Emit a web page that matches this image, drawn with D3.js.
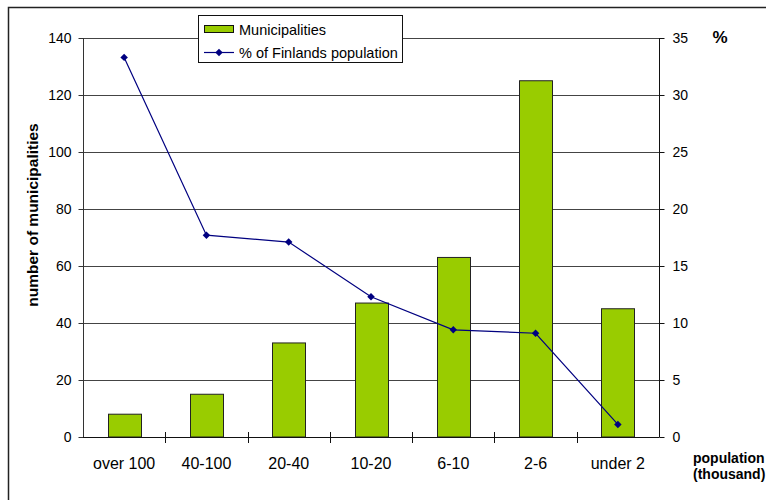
<!DOCTYPE html>
<html>
<head>
<meta charset="utf-8">
<script src="https://cdn.jsdelivr.net/npm/d3@7/dist/d3.min.js"></script>
<style>
  html, body { margin: 0; padding: 0; background: #fff; }
  svg { display: block; font-family: "Liberation Sans", Arial, sans-serif; }
</style>
</head>
<body>
<svg id="chart" width="766" height="500"></svg>
<script>
// Municipalities of Finland grouped by population size
const categories = ["over 100", "40-100", "20-40", "10-20", "6-10", "2-6", "under 2"];
const municipalities = [8, 15, 33, 47, 63, 125, 45];
const populationShare = [33.3, 17.7, 17.1, 12.3, 9.4, 9.1, 1.1];
const leftTicks = [0, 20, 40, 60, 80, 100, 120, 140];
const rightTicks = [0, 5, 10, 15, 20, 25, 30, 35];

const FONT = "Liberation Sans, Arial, sans-serif";
const svg = d3.select("#chart");
const plot = { left: 83, right: 659, top: 38, bottom: 437 };

const x = d3.scaleBand().domain(categories).range([plot.left, plot.right]);
const yL = d3.scaleLinear().domain([0, 140]).range([plot.bottom, plot.top]);
const yR = d3.scaleLinear().domain([0, 35]).range([plot.bottom, plot.top]);

// outer chart frame
svg.append("rect")
  .attr("x", 8.5).attr("y", 7.5).attr("width", 800).attr("height", 520)
  .attr("fill", "none").attr("stroke", "#222").attr("stroke-width", 1.5);

// horizontal gridlines
svg.append("g").selectAll("line")
  .data(leftTicks.filter(d => d > 0))
  .join("line")
  .attr("x1", plot.left).attr("x2", plot.right)
  .attr("y1", d => Math.round(yL(d)) + 0.5).attr("y2", d => Math.round(yL(d)) + 0.5)
  .attr("stroke", "#444").attr("stroke-width", 1);

// bars
const barW = 33;
svg.append("g").selectAll("rect")
  .data(categories)
  .join("rect")
  .attr("x", (d) => Math.round(x(d) + x.bandwidth() / 2 - barW / 2) + 0.5)
  .attr("y", (d, i) => yL(municipalities[i]))
  .attr("width", barW)
  .attr("height", (d, i) => plot.bottom - yL(municipalities[i]))
  .attr("fill", "#99cc00")
  .attr("stroke", "#222").attr("stroke-width", 1);

// left axis
const axL = svg.append("g")
  .attr("transform", `translate(${plot.left + 0.5},0)`)
  .call(d3.axisLeft(yL).tickValues(leftTicks).tickSize(5).tickPadding(7));
axL.select(".domain").attr("stroke", "#333").attr("d", `M0,${plot.top}V${plot.bottom}`);
axL.selectAll(".tick line").attr("stroke", "#333");
axL.selectAll(".tick text").attr("font-size", 14).attr("fill", "#000")
  .attr("font-family", FONT);

// right axis
const axR = svg.append("g")
  .attr("transform", `translate(${plot.right + 0.5},0)`)
  .call(d3.axisRight(yR).tickValues(rightTicks).tickSize(5).tickPadding(8));
axR.select(".domain").attr("stroke", "#111").attr("d", `M0,${plot.top}V${plot.bottom}`);
axR.selectAll(".tick line").attr("stroke", "#111");
axR.selectAll(".tick text").attr("font-size", 14).attr("fill", "#000")
  .attr("font-family", FONT);

// bottom axis: baseline and cross ticks at category boundaries
const base = svg.append("g");
base.append("line")
  .attr("x1", plot.left).attr("x2", plot.right + 0.5)
  .attr("y1", plot.bottom + 0.5).attr("y2", plot.bottom + 0.5)
  .attr("stroke", "#111");
base.selectAll("line.tk")
  .data(categories.slice(1))
  .join("line").attr("class", "tk")
  .attr("x1", d => Math.round(x(d)) + 0.5).attr("x2", d => Math.round(x(d)) + 0.5)
  .attr("y1", plot.bottom - 5).attr("y2", plot.bottom + 6)
  .attr("stroke", "#111");
base.selectAll("text")
  .data(categories)
  .join("text")
  .attr("x", d => x(d) + x.bandwidth() / 2)
  .attr("y", 469)
  .attr("text-anchor", "middle")
  .attr("font-size", 16)
  .text(d => d);

// population share line
const lineGen = d3.line()
  .x((d, i) => x(categories[i]) + x.bandwidth() / 2)
  .y(d => yR(d));
svg.append("path")
  .datum(populationShare)
  .attr("d", lineGen)
  .attr("fill", "none").attr("stroke", "#000080").attr("stroke-width", 1.2);

// square markers turned 45 degrees
const marker = d3.symbol().type(d3.symbolSquare).size(28);
svg.append("g").selectAll("path")
  .data(populationShare)
  .join("path")
  .attr("d", marker)
  .attr("transform", (d, i) => `translate(${x(categories[i]) + x.bandwidth() / 2},${yR(d)}) rotate(45)`)
  .attr("fill", "#000080");

// axis titles
svg.append("text")
  .attr("transform", "translate(38,215) rotate(-90)")
  .attr("text-anchor", "middle")
  .attr("font-size", 15.5).attr("font-weight", "bold")
  .text("number of municipalities");

svg.append("text")
  .attr("x", 720).attr("y", 43)
  .attr("text-anchor", "middle")
  .attr("font-size", 17).attr("font-weight", "bold")
  .text("%");

svg.append("text")
  .attr("x", 693).attr("y", 463)
  .attr("font-size", 14).attr("font-weight", "bold")
  .text("population");
svg.append("text")
  .attr("x", 693).attr("y", 479)
  .attr("font-size", 14).attr("font-weight", "bold")
  .text("(thousand)");

// legend
const lg = svg.append("g");
lg.append("rect")
  .attr("x", 198.5).attr("y", 15.5).attr("width", 204).attr("height", 47)
  .attr("fill", "#fff").attr("stroke", "#111").attr("stroke-width", 1);
lg.append("rect")
  .attr("x", 204.5).attr("y", 25.5).attr("width", 29).attr("height", 7)
  .attr("fill", "#99cc00").attr("stroke", "#111");
lg.append("text")
  .attr("x", 239).attr("y", 34.5)
  .attr("font-size", 14.5).text("Municipalities");
lg.append("line")
  .attr("x1", 204).attr("x2", 234).attr("y1", 52.5).attr("y2", 52.5)
  .attr("stroke", "#000080").attr("stroke-width", 1.2);
lg.append("path")
  .attr("d", marker)
  .attr("transform", "translate(219,52.5) rotate(45)")
  .attr("fill", "#000080");
lg.append("text")
  .attr("x", 239).attr("y", 57.5)
  .attr("font-size", 14.5).text("% of Finlands population");
</script>
</body>
</html>
